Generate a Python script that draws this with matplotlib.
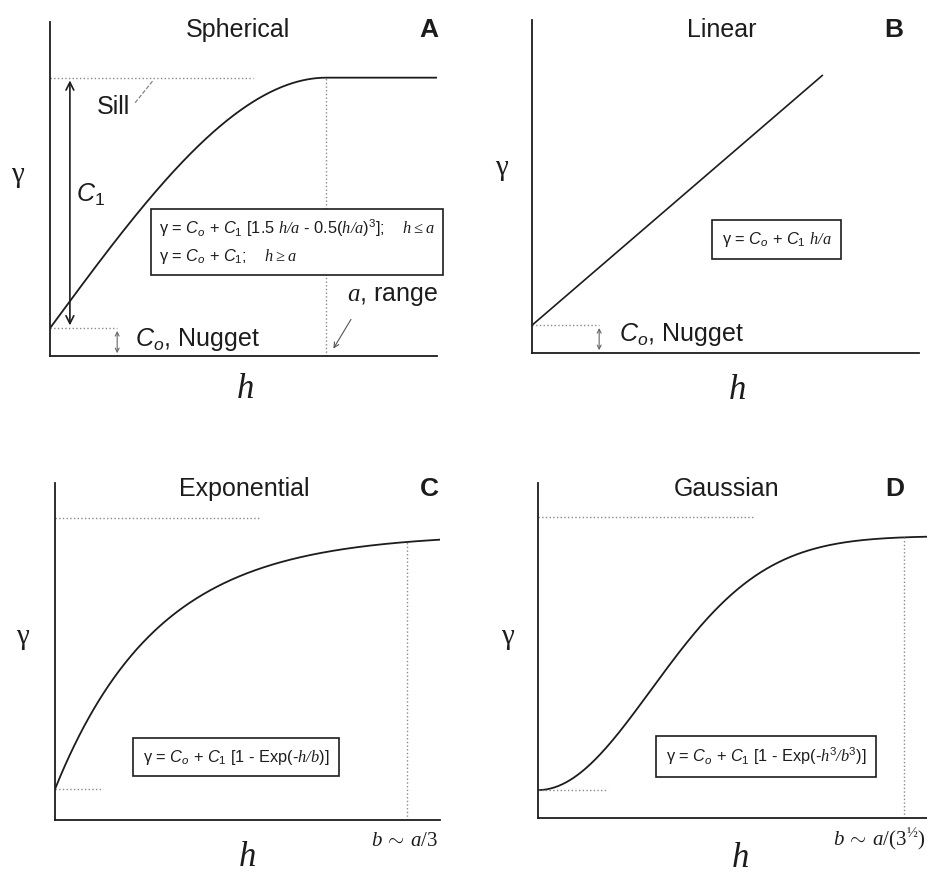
import numpy as np
import matplotlib
matplotlib.use("Agg")
import matplotlib.pyplot as plt

plt.rcParams['font.family'] = ['Liberation Sans', 'DejaVu Sans']
plt.rcParams['mathtext.fontset'] = 'custom'
plt.rcParams['mathtext.rm'] = 'Liberation Sans'
plt.rcParams['mathtext.it'] = 'Liberation Sans:italic'
plt.rcParams['mathtext.bf'] = 'Liberation Sans:bold'
plt.rcParams['mathtext.sf'] = 'Liberation Serif:italic'
plt.rcParams['mathtext.tt'] = 'Liberation Serif'

# model parameters (h: 0..14, gamma: 0..1.2)
sph_nugget, sph_sill, sph_range = 0.10, 1.00, 10.0
lin_nugget, lin_c1, lin_a, lin_hmax = 0.10, 0.90, 10.5, 10.5
exp_nugget, exp_c1, exp_b, exp_mark, exp_sill_line = 0.11, 0.91, 3.75, 12.8, 1.075
gau_nugget, gau_c1, gau_b, gau_mark, gau_sill_line = 0.10, 0.91, 5.73, 13.15, 1.08

titles = ['Spherical', 'Linear', 'Exponential', 'Gaussian']
title_x = [6.81, 6.85, 6.9, 6.77]
title_y = [1.17, 1.164, 1.18, 1.18]
letters = ['A', 'B', 'C', 'D']
letter_x = [13.7, 13.1, 13.6, 12.8]

ink = '#1c1c1c'
dot = '#8a8a8a'

fig = plt.figure(figsize=(9.28, 8.76), dpi=100)
W, H = 928, 876

def make_ax(l, r, t, b):
    ax = fig.add_axes([l / W, (H - b) / H, (r - l) / W, (b - t) / H])
    ax.set_xlim(0, 14)
    ax.set_ylim(0, 1.2)
    for s in ['top', 'right']:
        ax.spines[s].set_visible(False)
    for s in ['left', 'bottom']:
        ax.spines[s].set_linewidth(1.3)
        ax.spines[s].set_color(ink)
    ax.set_xticks([])
    ax.set_yticks([])
    ax.patch.set_alpha(0)
    return ax

axA = make_ax(50, 437, 22, 356)
axB = make_ax(532, 919, 20, 353)
axC = make_ax(55, 440, 483, 820)
axD = make_ax(538, 928, 483, 818)
axes = [axA, axB, axC, axD]

box = dict(boxstyle='square,pad=0.6', fc='white', ec=ink, lw=1.2)
eqsize = 11.8

for ax, t, tx, ty, l, lx in zip(axes, titles, title_x, title_y, letters, letter_x):
    ax.text(tx, ty, t, ha='center', va='center', fontsize=18, color=ink, clip_on=False)
    ax.text(lx, ty, l, ha='center', va='center', fontsize=19, fontweight='bold', color=ink, clip_on=False)

def ylab(ax, x, y):
    ax.text(x, y, 'γ', ha='center', va='center', fontsize=21, family='Liberation Serif', color=ink, clip_on=False)

def xlab(ax, x, y):
    ax.text(x, y, 'h', ha='center', va='center', fontsize=25, family='Liberation Serif', style='italic', color=ink, clip_on=False)

# ---- A: spherical
h = np.linspace(0, 14, 400)
g = np.where(h <= sph_range,
             sph_nugget + (sph_sill - sph_nugget) * (1.5 * h / sph_range - 0.5 * (h / sph_range) ** 3),
             sph_sill)
axA.plot(h, g, color=ink, lw=1.3)
axA.plot([0, 7.35], [sph_sill, sph_sill], ls=':', color=dot, lw=1)
axA.plot([sph_range, sph_range], [0, sph_sill], ls=':', color=dot, lw=1)
axA.plot([0, 2.43], [sph_nugget, sph_nugget], ls=':', color=dot, lw=1)
axA.annotate('', xy=(0.72, sph_sill), xytext=(0.72, sph_nugget),
             arrowprops=dict(arrowstyle='<->', color=ink, lw=1.2, mutation_scale=14))
axA.annotate('', xy=(2.43, sph_nugget), xytext=(2.43, 0),
             arrowprops=dict(arrowstyle='<->', color='#666666', lw=0.8, mutation_scale=7))
axA.text(1.45, 0.58, r'$C_1$', ha='center', va='center', fontsize=18, color=ink)
axA.text(2.28, 0.895, 'Sill', ha='center', va='center', fontsize=18, color=ink)
axA.plot([3.08, 3.73], [0.91, 0.99], color='#777777', lw=0.8, ls='--')
axA.text(3.08, 0.058, r'$C_o$, Nugget', ha='left', va='center', fontsize=18, color=ink)
axA.text(12.4, 0.216, r'$\mathsf{a}$, range', ha='center', va='center', fontsize=18, color=ink)
axA.annotate('', xy=(10.2, 0.018), xytext=(10.94, 0.14),
             arrowprops=dict(arrowstyle='->', color='#555555', lw=0.8, mutation_scale=9))
axA.text(3.95, 0.41,
         r'$\mathrm{\gamma}$ = $C_o$ + $C_1$ [1.5 $\mathsf{h/a}$ - 0.5($\mathsf{h/a}$)$^3$];    $\mathsf{h \leq a}$' + '\n'
         r'$\mathrm{\gamma}$ = $C_o$ + $C_1$;    $\mathsf{h \geq a}$',
         ha='left', va='center', fontsize=eqsize, color=ink, linespacing=1.6,
         bbox=dict(boxstyle='square,pad=0.5', fc='white', ec=ink, lw=1.2))
ylab(axA, -1.16, 0.65)
xlab(axA, 7.07, -0.12)

# ---- B: linear
hl = np.array([0, lin_hmax])
axB.plot(hl, lin_nugget + lin_c1 * hl / lin_a, color=ink, lw=1.2)
axB.plot([0, 2.43], [lin_nugget, lin_nugget], ls=':', color=dot, lw=1)
axB.annotate('', xy=(2.43, lin_nugget), xytext=(2.43, 0),
             arrowprops=dict(arrowstyle='<->', color='#666666', lw=0.8, mutation_scale=7))
axB.text(3.15, 0.065, r'$C_o$, Nugget', ha='left', va='center', fontsize=18, color=ink)
axB.text(8.84, 0.41, r'$\mathrm{\gamma}$ = $C_o$ + $C_1$ $\mathsf{h/a}$', ha='center', va='center',
         fontsize=eqsize, color=ink, bbox=box)
ylab(axB, -1.09, 0.667)
xlab(axB, 7.43, -0.135)

# ---- C: exponential
ge = exp_nugget + exp_c1 * (1 - np.exp(-h / exp_b))
axC.plot(h, ge, color=ink, lw=1.3)
axC.plot([0, 7.5], [exp_sill_line, exp_sill_line], ls=':', color=dot, lw=1)
axC.plot([0, 1.75], [exp_nugget, exp_nugget], ls=':', color=dot, lw=1)
ym = exp_nugget + exp_c1 * (1 - np.exp(-exp_mark / exp_b))
axC.plot([exp_mark, exp_mark], [0, ym], ls=':', color=dot, lw=1)
axC.text(6.58, 0.224, r'$\mathrm{\gamma}$ = $C_o$ + $C_1$ [1 - Exp(-$\mathsf{h/b}$)]', ha='center', va='center',
         fontsize=eqsize, color=ink, bbox=box)
axC.text(13.95, -0.072, r'$\mathsf{b}\,\mathtt{\sim}\,\mathsf{a}\mathtt{/3}$', ha='right', va='center',
         fontsize=15, color=ink, clip_on=False)
ylab(axC, -1.2, 0.65)
xlab(axC, 6.98, -0.135)

# ---- D: gaussian
gg = gau_nugget + gau_c1 * (1 - np.exp(-(h / gau_b) ** 2))
axD.plot(h, gg, color=ink, lw=1.3)
axD.plot([0, 7.8], [gau_sill_line, gau_sill_line], ls=':', color=dot, lw=1)
axD.plot([0, 2.5], [gau_nugget, gau_nugget], ls=':', color=dot, lw=1)
ym = gau_nugget + gau_c1 * (1 - np.exp(-(gau_mark / gau_b) ** 2))
axD.plot([gau_mark, gau_mark], [0, ym], ls=':', color=dot, lw=1)
axD.text(8.19, 0.22, r'$\mathrm{\gamma}$ = $C_o$ + $C_1$ [1 - Exp(-$\mathsf{h}^3\mathsf{/b}^3$)]', ha='center', va='center',
         fontsize=eqsize, color=ink, bbox=box)
axD.text(13.9, -0.075, r'$\mathsf{b}\,\mathtt{\sim}\,\mathsf{a}\mathtt{/(3}^{\mathtt{½}}\mathtt{)}$', ha='right', va='center',
         fontsize=15, color=ink, clip_on=False)
ylab(axD, -1.1, 0.65)
xlab(axD, 7.28, -0.145)

fig.savefig('out.png', dpi=100, facecolor='white')
